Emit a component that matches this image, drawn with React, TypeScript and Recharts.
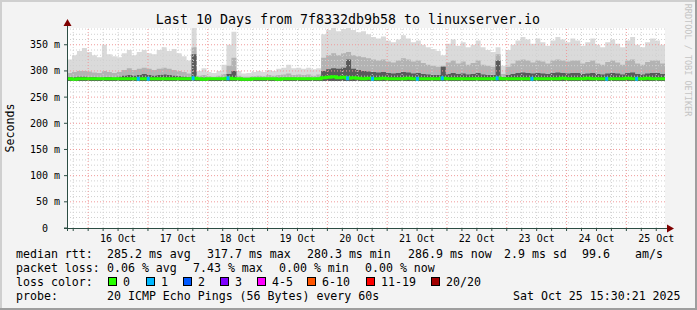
import React from 'react';
import { ComposedChart, Area, Line, XAxis, YAxis, ReferenceLine } from 'recharts';

// 2 hour buckets from Oct 15 15:30 to Oct 25 15:30, values in ms
const smokeMax = [
  322, 330, 338, 344, 336, 330, 326, 350, 332, 328,
  326, 334, 340, 330, 336, 340, 334, 332, 340, 345,
  338, 342, 334, 328, 320, 382, 300, 305, 298, 296,
  300, 312, 350, 375, 300, 295, 296, 298, 300, 298,
  302, 300, 304, 306, 312, 305, 306, 304, 306, 303,
  305, 370, 378, 382, 376, 380, 382, 378, 374, 376,
  370, 365, 362, 366, 358, 355, 360, 368, 362, 355,
  358, 350, 345, 342, 338, 330, 352, 360, 348, 355,
  345, 350, 358, 345, 340, 336, 345, 310, 340, 350,
  358, 365, 360, 352, 362, 355, 348, 358, 365, 360,
  355, 362, 358, 348, 355, 362, 350, 345, 355, 360,
  352, 345, 358, 365, 350, 345, 355, 362, 358, 350,
];
const smokeMid = [
  296, 298, 300, 300, 299, 297, 296, 300, 298, 296,
  298, 302, 305, 302, 304, 306, 304, 302, 304, 306,
  304, 302, 300, 298, 295, 345, 291, 292, 290, 289,
  291, 294, 310, 325, 291, 289, 289, 290, 291, 290,
  292, 291, 292, 293, 295, 292, 293, 292, 293, 291,
  293, 325, 330, 334, 330, 334, 336, 330, 328, 326,
  324, 322, 320, 322, 318, 316, 320, 324, 322, 318,
  320, 315, 312, 310, 308, 310, 316, 320, 314, 318,
  312, 315, 320, 312, 310, 308, 332, 294, 308, 314,
  320, 322, 320, 316, 320, 318, 314, 320, 322, 320,
  318, 320, 320, 314, 317, 320, 314, 312, 317, 320,
  316, 312, 320, 322, 314, 312, 317, 320, 320, 314,
];
const smokeDense = [
  288, 288, 289, 289, 288, 288, 287, 288, 288, 287,
  289, 291, 292, 291, 292, 294, 292, 291, 292, 293,
  292, 291, 290, 289, 288, 332, 286, 287, 286, 286,
  286, 287, 294, 300, 286, 285, 285, 286, 286, 286,
  286, 286, 287, 287, 287, 287, 287, 286, 287, 286,
  287, 300, 303, 305, 304, 306, 322, 304, 302, 300,
  299, 298, 297, 298, 296, 295, 296, 298, 297, 295,
  296, 294, 293, 292, 292, 308, 294, 296, 294, 295,
  293, 294, 296, 293, 292, 292, 320, 288, 292, 294,
  296, 297, 296, 295, 296, 295, 294, 296, 297, 296,
  295, 296, 296, 294, 295, 296, 294, 293, 295, 296,
  295, 293, 296, 297, 294, 293, 295, 296, 296, 294,
];
const medianRtt = [
  285, 284, 285, 285, 285, 285, 285, 285, 285, 285,
  285, 285, 285, 285, 285, 285, 285, 285, 285, 285,
  285, 285, 285, 285, 285, 286, 285, 284, 285, 285,
  285, 285, 286, 285, 285, 284, 284, 285, 285, 285,
  285, 285, 284, 285, 285, 285, 285, 285, 285, 285,
  285, 287, 288, 289, 287, 288, 286, 287, 286, 285,
  286, 285, 285, 286, 285, 285, 285, 285, 286, 285,
  285, 285, 285, 285, 285, 286, 285, 285, 285, 285,
  285, 285, 285, 285, 285, 285, 286, 285, 285, 285,
  285, 285, 285, 285, 285, 285, 285, 285, 285, 286,
  285, 285, 285, 285, 286, 285, 285, 285, 285, 285,
  285, 285, 286, 285, 285, 285, 286, 285, 285, 285,
];
const lossBuckets = [14, 16, 25, 32, 56, 61, 70, 75, 86, 93, 108, 114];
const smokeFloor = 281;

const dayLabels = ['16 Oct', '17 Oct', '18 Oct', '19 Oct', '20 Oct', '21 Oct', '22 Oct', '23 Oct', '24 Oct', '25 Oct'];
const yTicks = [0, 50, 100, 150, 200, 250, 300, 350];

const lossLegend = [
  { label: '0', color: '#26ff00' },
  { label: '1', color: '#00b8ff' },
  { label: '2', color: '#0059ff' },
  { label: '3', color: '#7e00ff' },
  { label: '4-5', color: '#ff00ff' },
  { label: '6-10', color: '#ff5500' },
  { label: '11-19', color: '#ff0000' },
  { label: '20/20', color: '#a10000' },
];
const lossBoxX = [108, 146, 183, 220, 257, 307, 366, 431];

const rows = smokeMax.map((m, i) => ({
  t: i * 2,
  light: [smokeFloor, m],
  mid: [smokeFloor, smokeMid[i]],
  dense: [smokeFloor, smokeDense[i]],
  median: medianRtt[i],
  loss: lossBuckets.includes(i) ? medianRtt[i] : null,
}));
rows.push({ ...rows[rows.length - 1], t: 240, loss: null });

// first 18:00 after the start time, then every 6 hours
const gridHours = Array.from({ length: 40 }, (_, k) => 2.494 + 6 * k);
const midnights = gridHours.filter((_, k) => k % 4 === 1);
const noons = gridHours.filter((_, k) => k % 4 === 3);
const sixHours = gridHours.filter((_, k) => k % 4 !== 1);
const hMinor = Array.from({ length: 38 }, (_, k) => (k + 1) * 10).filter(v => v % 50 !== 0);
const hMajor = [50, 100, 150, 200, 250, 300, 350];

const MONO = '"DejaVu Sans Mono", monospace';
const AXIS = '#2c4d43';
const GRID = '#d0d0d0';
const MGRID = '#f09a9a';

const YTick = (props: any) => {
  const { x, y, payload } = props;
  return (
    <text x={payload.value === 0 ? x - 12 : x} y={y} dy={3.5} textAnchor="end" fontFamily={MONO} fontSize={10} fill="#000">
      {payload.value === 0 ? '0' : `${payload.value} m`}
    </text>
  );
};

const XTick = (props: any) => {
  const { x, y, payload } = props;
  const idx = noons.findIndex(n => Math.abs(n - payload.value) < 0.01);
  if (idx < 0) return <g />;
  return (
    <text x={x} y={y + 9} textAnchor="middle" fontFamily={MONO} fontSize={10} fill="#000">
      {dayLabels[idx]}
    </text>
  );
};

const LossDot = (props: any) => {
  const { cx, cy, payload, index } = props;
  if (payload.loss == null || cy == null) return <g key={`l-${index}`} />;
  return <rect key={`l-${index}`} x={cx} y={cy - 2} width={3} height={4} fill="#00b8ff" />;
};

const legendText = (x: number, y: number, s: string) => (
  <text x={x} y={y} fontFamily={MONO} fontSize={11.6} fill="#000" style={{ whiteSpace: 'pre' }}>{s}</text>
);

export default function App() {
  return (
    <div style={{ position: 'fixed', left: 0, top: 0, width: 697, height: 310 }}>
      <svg width={697} height={310} style={{ position: 'absolute', left: 0, top: 0 }}>
        <rect x={0} y={0} width={697} height={310} fill="#9e9e9e" />
        <rect x={0} y={0} width={695} height={308} fill="#cfcfcf" />
        <rect x={2} y={2} width={693} height={306} fill="#f3f3f3" />
        <rect x={67} y={28} width={598} height={200} fill="#ffffff" />
      </svg>
      <div style={{ position: 'absolute', left: 0, top: 0 }}>
        <ComposedChart width={697} height={310} data={rows} margin={{ top: 28, right: 32, bottom: 62, left: 7 }}>
          <XAxis
            dataKey="t"
            type="number"
            domain={[0, 240]}
            ticks={gridHours}
            tick={<XTick />}
            tickSize={3}
            tickMargin={2}
            tickLine={{ stroke: AXIS }}
            axisLine={false}
            height={20}
            interval={0}
            allowDataOverflow
          />
          <YAxis
            domain={[0, 382]}
            ticks={yTicks}
            tick={<YTick />}
            tickSize={3}
            tickMargin={4}
            tickLine={{ stroke: AXIS }}
            axisLine={false}
            width={60}
            interval={0}
            allowDataOverflow
          />
          <Area dataKey="light" type="stepAfter" stroke="none" fill="#dadada" fillOpacity={1} isAnimationActive={false} />
          <Area dataKey="mid" type="stepAfter" stroke="none" fill="#b3b3b3" fillOpacity={1} isAnimationActive={false} />
          <Area dataKey="dense" type="stepAfter" stroke="none" fill="#5a5a5a" fillOpacity={1} isAnimationActive={false} />
          {hMinor.map(v => (
            <ReferenceLine key={`hm-${v}`} y={v} stroke={GRID} strokeDasharray="1 2" />
          ))}
          {sixHours.map(v => (
            <ReferenceLine key={`vm-${v}`} x={v} stroke={GRID} strokeDasharray="1 2" />
          ))}
          {hMajor.map(v => (
            <ReferenceLine key={`hM-${v}`} y={v} stroke={MGRID} strokeDasharray="1 2" />
          ))}
          {midnights.map(v => (
            <ReferenceLine key={`vM-${v}`} x={v} stroke={MGRID} strokeDasharray="1 2" />
          ))}
          <Line dataKey="median" type="stepAfter" stroke="#26ff00" strokeWidth={3} dot={false} isAnimationActive={false} />
          <Line dataKey="loss" type="stepAfter" stroke="none" dot={<LossDot />} isAnimationActive={false} />
        </ComposedChart>
      </div>
      <svg width={697} height={310} style={{ position: 'absolute', left: 0, top: 0, pointerEvents: 'none' }}>
        <line x1={67.5} y1={22} x2={67.5} y2={231} stroke={AXIS} strokeWidth={1} />
        <line x1={64} y1={228.5} x2={668} y2={228.5} stroke={AXIS} strokeWidth={1} />
        <polygon points="63.5,26 71.5,26 67.5,19" fill="#7f0000" />
        <polygon points="667,224.5 667,232.5 674,228.5" fill="#7f0000" />
        <text x={348} y={23.5} textAnchor="middle" fontFamily={MONO} fontSize={13.3} fill="#000">
          Last 10 Days from 7f8332db9b58 to linuxserver.io
        </text>
        <text x={14} y={128} textAnchor="middle" fontFamily={MONO} fontSize={11.6} fill="#000" transform="rotate(-90 14 128)">
          Seconds
        </text>
        <text x={685} y={60} textAnchor="middle" fontFamily={MONO} fontSize={8.5} fill="#c4c4c4" transform="rotate(90 685 60)">
          RRDTOOL / TOBI OETIKER
        </text>
        {legendText(16, 258, 'median rtt:')}
        {legendText(107, 258, '285.2 ms avg')}
        {legendText(207, 258, '317.7 ms max')}
        {legendText(307, 258, '280.3 ms min')}
        {legendText(408, 258, '286.9 ms now')}
        {legendText(504, 258, '2.9 ms sd')}
        {legendText(582, 258, '99.6')}
        {legendText(635, 258, 'am/s')}
        {legendText(16, 272, 'packet loss:')}
        {legendText(107, 272, '0.06 % avg')}
        {legendText(193, 272, '7.43 % max')}
        {legendText(279, 272, '0.00 % min')}
        {legendText(365, 272, '0.00 % now')}
        {legendText(16, 286, 'loss color:')}
        {lossLegend.map((l, i) => (
          <g key={l.label}>
            <rect x={lossBoxX[i] + 0.5} y={277.5} width={8} height={8} fill={l.color} stroke="#000" strokeWidth={1} />
            {legendText(lossBoxX[i] + 15, 286, l.label)}
          </g>
        ))}
        {legendText(16, 300, 'probe:')}
        {legendText(107, 300, '20 ICMP Echo Pings (56 Bytes) every 60s')}
        {legendText(513, 300, 'Sat Oct 25 15:30:21 2025')}
      </svg>
    </div>
  );
}
